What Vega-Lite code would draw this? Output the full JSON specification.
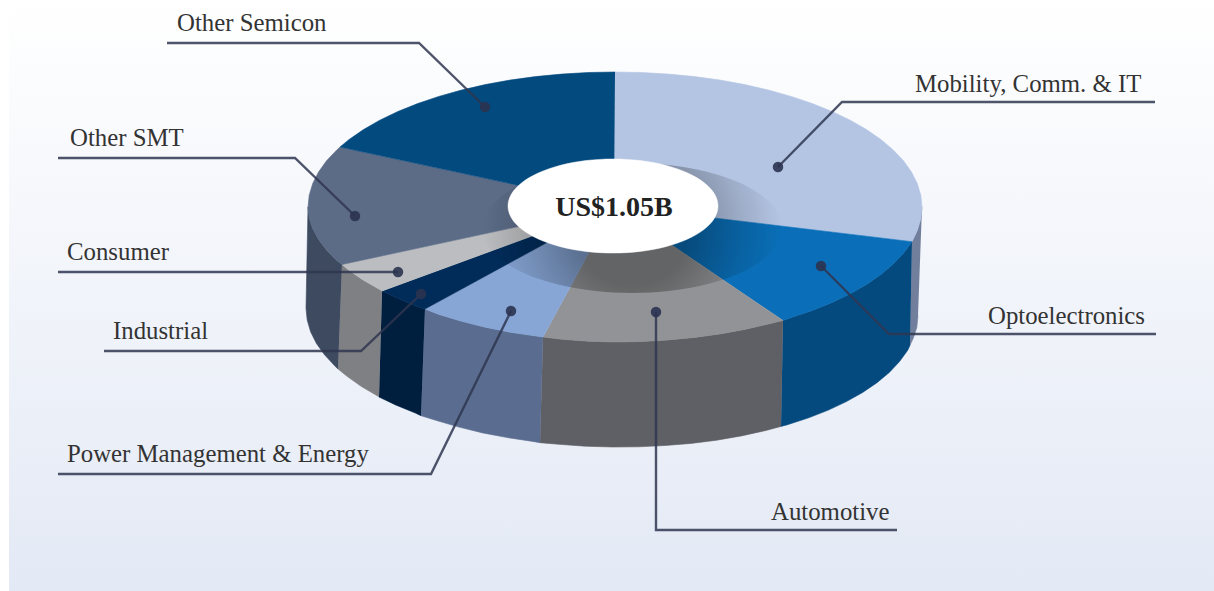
{"$schema":"https://vega.github.io/schema/vega-lite/v6.json","width":1214,"height":591,"padding":0,"autosize":"none","background":"white","config":{"view":{"stroke":null}},
"datasets":{
"bg":[{"x":9,"x2":1214,"y":0,"y2":591}],
"faces":[
{"s":"Mobility side","x":922,"y":207},{"s":"Mobility side","x":920.8,"y":218.8},{"s":"Mobility side","x":917.3,"y":230.4},{"s":"Mobility side","x":912,"y":241.7},{"s":"Mobility side","x":910,"y":345.3},{"s":"Mobility side","x":913.4,"y":338},{"s":"Mobility side","x":916.8,"y":327.5},{"s":"Mobility side","x":918,"y":315.7},
{"s":"Opto side","x":912,"y":241.7},{"s":"Opto side","x":903.5,"y":253.2},{"s":"Opto side","x":893.2,"y":264.1},{"s":"Opto side","x":880.9,"y":274.5},{"s":"Opto side","x":866.5,"y":284.4},{"s":"Opto side","x":850.2,"y":293.8},{"s":"Opto side","x":832.1,"y":302.5},{"s":"Opto side","x":812.3,"y":310.4},{"s":"Opto side","x":791.1,"y":317.6},{"s":"Opto side","x":783,"y":320.5},{"s":"Opto side","x":781,"y":426.4},{"s":"Opto side","x":787.5,"y":424.7},{"s":"Opto side","x":808.7,"y":417.8},{"s":"Opto side","x":828.4,"y":410.1},{"s":"Opto side","x":846.4,"y":401.6},{"s":"Opto side","x":862.7,"y":392.4},{"s":"Opto side","x":877,"y":382.7},{"s":"Opto side","x":889.3,"y":372.4},{"s":"Opto side","x":899.5,"y":361.6},{"s":"Opto side","x":907.6,"y":350.4},{"s":"Opto side","x":910,"y":345.3},
{"s":"Auto side","x":783,"y":320.5},{"s":"Auto side","x":768.5,"y":323.9},{"s":"Auto side","x":744.7,"y":329.4},{"s":"Auto side","x":720,"y":333.9},{"s":"Auto side","x":694.5,"y":337.4},{"s":"Auto side","x":668.3,"y":339.9},{"s":"Auto side","x":641.8,"y":341.5},{"s":"Auto side","x":615,"y":342},{"s":"Auto side","x":588.2,"y":341.2},{"s":"Auto side","x":561.7,"y":339.2},{"s":"Auto side","x":543,"y":337},{"s":"Auto side","x":540,"y":442.7},{"s":"Auto side","x":558.9,"y":444.3},{"s":"Auto side","x":585.3,"y":446.2},{"s":"Auto side","x":612,"y":447},{"s":"Auto side","x":638.7,"y":446.8},{"s":"Auto side","x":665.1,"y":445.5},{"s":"Auto side","x":691.2,"y":443.4},{"s":"Auto side","x":716.7,"y":440.2},{"s":"Auto side","x":741.3,"y":435.9},{"s":"Auto side","x":765,"y":430.7},{"s":"Auto side","x":781,"y":426.4},
{"s":"Power side","x":543,"y":337},{"s":"Power side","x":510,"y":332.2},{"s":"Power side","x":485.3,"y":327.2},{"s":"Power side","x":461.5,"y":321.2},{"s":"Power side","x":438.9,"y":314.4},{"s":"Power side","x":425,"y":309},{"s":"Power side","x":421,"y":415.7},{"s":"Power side","x":436.5,"y":420.5},{"s":"Power side","x":459,"y":427.1},{"s":"Power side","x":482.7,"y":432.9},{"s":"Power side","x":507.3,"y":437.6},{"s":"Power side","x":532.8,"y":441.4},{"s":"Power side","x":540,"y":442.7},
{"s":"Industrial side","x":425,"y":309},{"s":"Industrial side","x":417.7,"y":306.7},{"s":"Industrial side","x":397.9,"y":298.3},{"s":"Industrial side","x":382,"y":291},{"s":"Industrial side","x":379,"y":397},{"s":"Industrial side","x":395.6,"y":404.9},{"s":"Industrial side","x":415.3,"y":413},{"s":"Industrial side","x":421,"y":415.7},
{"s":"Consumer side","x":382,"y":291},{"s":"Consumer side","x":379.8,"y":289.6},{"s":"Consumer side","x":363.5,"y":280.2},{"s":"Consumer side","x":349.1,"y":270.5},{"s":"Consumer side","x":342,"y":264.5},{"s":"Consumer side","x":338,"y":369},{"s":"Consumer side","x":347,"y":376.3},{"s":"Consumer side","x":361.3,"y":386.4},{"s":"Consumer side","x":377.6,"y":396},{"s":"Consumer side","x":379,"y":397},
{"s":"SMT side","x":342,"y":264.5},{"s":"SMT side","x":336.8,"y":260.5},{"s":"SMT side","x":326.5,"y":250},{"s":"SMT side","x":318.5,"y":239.4},{"s":"SMT side","x":312.7,"y":228.6},{"s":"SMT side","x":309.2,"y":218},{"s":"SMT side","x":308,"y":207},{"s":"SMT side","x":306,"y":308.3},{"s":"SMT side","x":307.2,"y":320.1},{"s":"SMT side","x":310.6,"y":331.8},{"s":"SMT side","x":316.4,"y":343.4},{"s":"SMT side","x":324.5,"y":354.7},{"s":"SMT side","x":334.7,"y":365.8},{"s":"SMT side","x":338,"y":369},
{"s":"Mobility","x":614,"y":206},{"s":"Mobility","x":615,"y":72},{"s":"Mobility","x":641.8,"y":72.5},{"s":"Mobility","x":668.3,"y":74.1},{"s":"Mobility","x":694.5,"y":76.6},{"s":"Mobility","x":720,"y":80.1},{"s":"Mobility","x":744.7,"y":84.6},{"s":"Mobility","x":768.5,"y":90.1},{"s":"Mobility","x":791.1,"y":96.4},{"s":"Mobility","x":812.3,"y":103.6},{"s":"Mobility","x":832.1,"y":111.5},{"s":"Mobility","x":850.2,"y":120.2},{"s":"Mobility","x":866.5,"y":129.6},{"s":"Mobility","x":880.9,"y":139.5},{"s":"Mobility","x":893.2,"y":149.9},{"s":"Mobility","x":903.5,"y":160.8},{"s":"Mobility","x":911.5,"y":172.1},{"s":"Mobility","x":917.3,"y":183.6},{"s":"Mobility","x":920.8,"y":195.2},{"s":"Mobility","x":922,"y":207},{"s":"Mobility","x":920.8,"y":218.8},{"s":"Mobility","x":917.3,"y":230.4},{"s":"Mobility","x":912,"y":241.7},
{"s":"Opto","x":614,"y":206},{"s":"Opto","x":912,"y":241.7},{"s":"Opto","x":903.5,"y":253.2},{"s":"Opto","x":893.2,"y":264.1},{"s":"Opto","x":880.9,"y":274.5},{"s":"Opto","x":866.5,"y":284.4},{"s":"Opto","x":850.2,"y":293.8},{"s":"Opto","x":832.1,"y":302.5},{"s":"Opto","x":812.3,"y":310.4},{"s":"Opto","x":791.1,"y":317.6},{"s":"Opto","x":783,"y":320.5},
{"s":"Auto","x":614,"y":206},{"s":"Auto","x":783,"y":320.5},{"s":"Auto","x":768.5,"y":323.9},{"s":"Auto","x":744.7,"y":329.4},{"s":"Auto","x":720,"y":333.9},{"s":"Auto","x":694.5,"y":337.4},{"s":"Auto","x":668.3,"y":339.9},{"s":"Auto","x":641.8,"y":341.5},{"s":"Auto","x":615,"y":342},{"s":"Auto","x":588.2,"y":341.2},{"s":"Auto","x":561.7,"y":339.2},{"s":"Auto","x":543,"y":337},
{"s":"Power","x":614,"y":206},{"s":"Power","x":543,"y":337},{"s":"Power","x":510,"y":332.2},{"s":"Power","x":485.3,"y":327.2},{"s":"Power","x":461.5,"y":321.2},{"s":"Power","x":438.9,"y":314.4},{"s":"Power","x":425,"y":309},
{"s":"Industrial","x":614,"y":206},{"s":"Industrial","x":425,"y":309},{"s":"Industrial","x":417.7,"y":306.7},{"s":"Industrial","x":397.9,"y":298.3},{"s":"Industrial","x":382,"y":291},
{"s":"Consumer","x":614,"y":206},{"s":"Consumer","x":382,"y":291},{"s":"Consumer","x":379.8,"y":289.6},{"s":"Consumer","x":363.5,"y":280.2},{"s":"Consumer","x":349.1,"y":270.5},{"s":"Consumer","x":342,"y":264.5},
{"s":"SMT","x":614,"y":206},{"s":"SMT","x":342,"y":264.5},{"s":"SMT","x":336.8,"y":260.5},{"s":"SMT","x":326.5,"y":250},{"s":"SMT","x":318.5,"y":239.4},{"s":"SMT","x":312.7,"y":228.6},{"s":"SMT","x":309.2,"y":218},{"s":"SMT","x":308,"y":207},{"s":"SMT","x":309.2,"y":195.2},{"s":"SMT","x":312.7,"y":183.6},{"s":"SMT","x":318.5,"y":172.1},{"s":"SMT","x":326.5,"y":160.8},{"s":"SMT","x":336.8,"y":149.9},{"s":"SMT","x":340,"y":147},
{"s":"Semicon","x":614,"y":206},{"s":"Semicon","x":340,"y":147},{"s":"Semicon","x":349.1,"y":139.5},{"s":"Semicon","x":363.5,"y":129.6},{"s":"Semicon","x":379.8,"y":120.2},{"s":"Semicon","x":397.9,"y":111.5},{"s":"Semicon","x":417.7,"y":103.6},{"s":"Semicon","x":438.9,"y":96.4},{"s":"Semicon","x":461.5,"y":90.1},{"s":"Semicon","x":485.3,"y":84.6},{"s":"Semicon","x":510,"y":80.1},{"s":"Semicon","x":535.5,"y":76.6},{"s":"Semicon","x":561.7,"y":74.1},{"s":"Semicon","x":588.2,"y":72.5},{"s":"Semicon","x":615,"y":72}
],
"shadow":[{"x":632,"y":163},{"x":670.8,"y":165.2},{"x":707,"y":171.7},{"x":738.1,"y":182},{"x":761.9,"y":195.5},{"x":776.9,"y":211.2},{"x":782,"y":228},{"x":776.9,"y":244.8},{"x":761.9,"y":260.5},{"x":738.1,"y":274},{"x":707,"y":284.3},{"x":670.8,"y":290.8},{"x":632,"y":293},{"x":593.2,"y":290.8},{"x":557,"y":284.3},{"x":525.9,"y":274},{"x":502.1,"y":260.5},{"x":487.1,"y":244.8},{"x":482,"y":228},{"x":487.1,"y":211.2},{"x":502.1,"y":195.5},{"x":525.9,"y":182},{"x":557,"y":171.7},{"x":593.2,"y":165.2}],
"hole":[{"x":613,"y":159},{"x":640.2,"y":160.6},{"x":665.5,"y":165.3},{"x":687.2,"y":172.8},{"x":703.9,"y":182.5},{"x":714.4,"y":193.8},{"x":718,"y":206},{"x":714.4,"y":218.2},{"x":703.9,"y":229.5},{"x":687.2,"y":239.2},{"x":665.5,"y":246.7},{"x":640.2,"y":251.4},{"x":613,"y":253},{"x":585.8,"y":251.4},{"x":560.5,"y":246.7},{"x":538.8,"y":239.2},{"x":522.1,"y":229.5},{"x":511.6,"y":218.2},{"x":508,"y":206},{"x":511.6,"y":193.8},{"x":522.1,"y":182.5},{"x":538.8,"y":172.8},{"x":560.5,"y":165.3},{"x":585.8,"y":160.6}],
"leaders":[
{"l":"Other Semicon","x":167,"y":43},{"l":"Other Semicon","x":419,"y":43},{"l":"Other Semicon","x":485,"y":107},
{"l":"Mobility","x":1155,"y":102},{"l":"Mobility","x":842,"y":102},{"l":"Mobility","x":778,"y":167},
{"l":"Opto","x":1156,"y":334},{"l":"Opto","x":889,"y":334},{"l":"Opto","x":821,"y":266},
{"l":"Auto","x":897,"y":530},{"l":"Auto","x":656,"y":530},{"l":"Auto","x":656,"y":312},
{"l":"Power","x":58,"y":474},{"l":"Power","x":431,"y":474},{"l":"Power","x":511,"y":311},
{"l":"Industrial","x":104,"y":351},{"l":"Industrial","x":361,"y":351},{"l":"Industrial","x":421,"y":294},
{"l":"Consumer","x":58,"y":272},{"l":"Consumer","x":398,"y":272},
{"l":"SMT","x":58,"y":158},{"l":"SMT","x":295,"y":158},{"l":"SMT","x":355,"y":216}],
"dots":[{"x":485,"y":107},{"x":778,"y":167},{"x":821,"y":266},{"x":656,"y":312},{"x":511,"y":311},{"x":421,"y":294},{"x":398,"y":272},{"x":355,"y":216}],
"labels":[
{"t":"Other Semicon","x":177,"y":31},{"t":"Mobility, Comm. & IT","x":915,"y":92},{"t":"Optoelectronics","x":988,"y":324},{"t":"Automotive","x":771,"y":520},{"t":"Power Management & Energy","x":67,"y":462},{"t":"Industrial","x":113,"y":339},{"t":"Consumer","x":67,"y":260},{"t":"Other SMT","x":70,"y":146}],
"center":[{"t":"US$1.05B","x":614,"y":216}]
},
"encoding":{"x":{"field":"x","type":"quantitative","axis":null,"scale":{"domain":[0,1214],"nice":false,"zero":false}},"y":{"field":"y","type":"quantitative","axis":null,"scale":{"domain":[591,0],"nice":false,"zero":false}}},
"layer":[
{"data":{"name":"bg"},"mark":{"type":"rect","fill":{"gradient":"linear","x1":0,"y1":0,"x2":0,"y2":1,"stops":[{"offset":0,"color":"#ffffff"},{"offset":1,"color":"#e3e9f5"}]}},"encoding":{"x2":{"field":"x2"},"y2":{"field":"y2"}}},
{"data":{"name":"faces"},"transform":[{"window":[{"op":"row_number","as":"n"}]}],"mark":{"type":"line","strokeWidth":0.6},"encoding":{"order":{"field":"n","type":"quantitative"},
"fill":{"field":"s","type":"nominal","legend":null,"scale":{"domain":["Mobility side","Opto side","Auto side","Power side","Industrial side","Consumer side","SMT side","Mobility","Opto","Auto","Power","Industrial","Consumer","SMT","Semicon"],"range":["#727f9c","#054a7f","#5f6065","#5a6d90","#001f3f","#7f8083","#3d4a60","#b4c5e4","#0a6fb8","#929396","#87a6d6","#012c5a","#bcbdc0","#5c6c87","#034a7f"]}},
"stroke":{"field":"s","type":"nominal","legend":null,"scale":{"domain":["Mobility side","Opto side","Auto side","Power side","Industrial side","Consumer side","SMT side","Mobility","Opto","Auto","Power","Industrial","Consumer","SMT","Semicon"],"range":["#727f9c","#054a7f","#5f6065","#5a6d90","#001f3f","#7f8083","#3d4a60","#b4c5e4","#0a6fb8","#929396","#87a6d6","#012c5a","#bcbdc0","#5c6c87","#034a7f"]}}}},
{"data":{"name":"shadow"},"transform":[{"window":[{"op":"row_number","as":"n"}]}],"mark":{"type":"line","interpolate":"cardinal-closed","tension":0,"strokeWidth":0,"fill":{"gradient":"radial","x1":0.5,"y1":0.5,"r1":0,"x2":0.5,"y2":0.5,"r2":0.5,"stops":[{"offset":0,"color":"rgba(0,0,0,0.32)"},{"offset":0.38,"color":"rgba(0,0,0,0.32)"},{"offset":0.7,"color":"rgba(0,0,0,0.14)"},{"offset":1,"color":"rgba(0,0,0,0)"}]}},"encoding":{"order":{"field":"n","type":"quantitative"}}},
{"data":{"name":"hole"},"transform":[{"window":[{"op":"row_number","as":"n"}]}],"mark":{"type":"line","interpolate":"cardinal-closed","tension":0,"fill":"#ffffff","stroke":"#ffffff","strokeWidth":0.5},"encoding":{"order":{"field":"n","type":"quantitative"}}},
{"data":{"name":"leaders"},"transform":[{"window":[{"op":"row_number","as":"n"}]}],"mark":{"type":"line","stroke":"#2f3650","strokeWidth":2.4,"opacity":0.85},"encoding":{"detail":{"field":"l"},"order":{"field":"n","type":"quantitative"}}},
{"data":{"name":"dots"},"mark":{"type":"circle","size":110,"color":"#2b3350","opacity":0.9}},
{"data":{"name":"labels"},"mark":{"type":"text","font":"Liberation Serif","fontSize":24.8,"align":"left","baseline":"alphabetic","color":"#333333"},"encoding":{"text":{"field":"t"}}},
{"data":{"name":"center"},"mark":{"type":"text","font":"Liberation Serif","fontWeight":"bold","fontSize":28,"align":"center","baseline":"alphabetic","color":"#222222"},"encoding":{"text":{"field":"t"}}}
]}
